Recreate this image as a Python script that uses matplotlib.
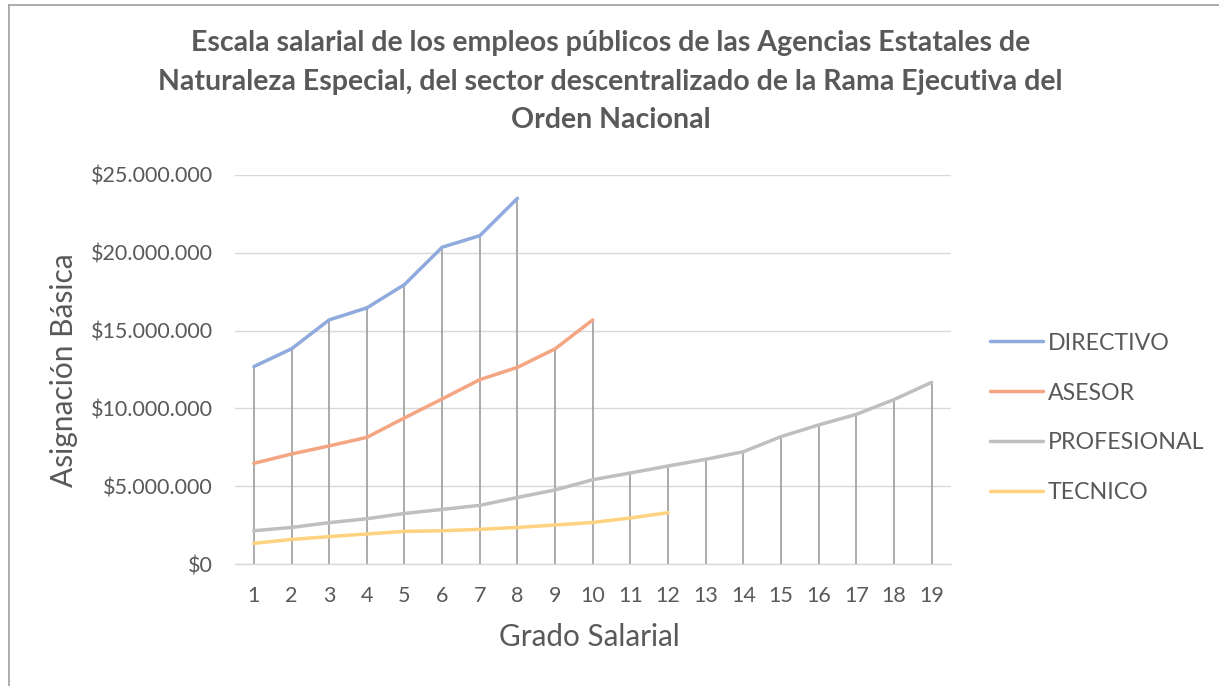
import numpy as np
import matplotlib
matplotlib.use("Agg")
import matplotlib.pyplot as plt
from matplotlib.lines import Line2D
from matplotlib.ticker import FuncFormatter

# datos (millones de pesos)
grados = list(range(1, 20))
directivo = [12.69, 13.83, 15.69, 16.46, 17.96, 20.36, 21.10, 23.50]
asesor = [6.47, 7.07, 7.59, 8.14, 9.39, 10.61, 11.85, 12.64, 13.83, 15.69]
profesional = [2.14, 2.35, 2.66, 2.91, 3.25, 3.51, 3.77, 4.28, 4.76, 5.42,
               5.85, 6.30, 6.73, 7.22, 8.19, 8.94, 9.62, 10.57, 11.68]
tecnico = [1.33, 1.58, 1.76, 1.93, 2.10, 2.14, 2.23, 2.35, 2.51, 2.67, 2.96, 3.30]

series = [
    ("DIRECTIVO", directivo, "#8faadc"),
    ("ASESOR", asesor, "#f4a582"),
    ("PROFESIONAL", profesional, "#bfbfbf"),
    ("TECNICO", tecnico, "#ffd280"),
]

plt.rcParams['font.family'] = ['Lato', 'DejaVu Sans']
texto = "#595959"

fig = plt.figure(figsize=(12.19, 6.86), dpi=100)
ax = fig.add_axes([0.1928, 0.1778, 0.587, 0.5671])

# lineas de caida (desde el valor maximo de cada grado hasta el eje)
maximos = []
for i, g in enumerate(grados):
    vals = [s[1][i] * 1e6 for s in series if i < len(s[1])]
    maximos.append(max(vals))
ax.vlines(grados, 0, maximos, color="#a5a5a5", lw=1.3, zorder=2)

for nombre, vals, color in series:
    x = grados[:len(vals)]
    ax.plot(x, np.array(vals) * 1e6, color=color, lw=2.5, label=nombre,
            solid_capstyle="round", zorder=3)

ax.set_xlim(0.5, 19.5)
ax.set_ylim(0, 25e6)
ax.set_xticks(grados)
ax.set_yticks(np.arange(0, 25e6 + 1, 5e6))
ax.yaxis.set_major_formatter(FuncFormatter(
    lambda v, p: "$" + f"{int(v):,}".replace(",", ".")))
ax.grid(axis="y", color="#d9d9d9", lw=1.0, zorder=0)
for lado in ["top", "right", "left"]:
    ax.spines[lado].set_visible(False)
ax.spines["bottom"].set_color("#d9d9d9")
ax.spines["bottom"].set_linewidth(1.0)
ax.tick_params(length=0, labelsize=15.5, labelcolor=texto)
ax.tick_params(axis="x", pad=16)
ax.tick_params(axis="y", pad=16)

ax.set_xlabel("Grado Salarial", fontsize=21.3, color=texto)
ax.set_ylabel("Asignación Básica", fontsize=21.5, color=texto)
ax.xaxis.set_label_coords(0.4958, -0.1877)
ax.xaxis.label.set_va("center")
ax.yaxis.set_label_coords(-0.2388, 0.4987)
ax.yaxis.label.set_va("center")

fig.text(0.501, 1 - 30 / 686,
         "Escala salarial de los empleos públicos de las Agencias Estatales de\n"
         "Naturaleza Especial, del sector descentralizado de la Rama Ejecutiva del\n"
         "Orden Nacional",
         ha="center", va="top", fontsize=20.5, fontweight="bold", color=texto,
         linespacing=1.6)

leg = fig.legend(loc="center left", bbox_to_anchor=(990 / 1219, 1 - 418 / 686),
                 frameon=False, fontsize=16.7, labelspacing=1.25,
                 handlelength=2.3, handletextpad=0.2, borderpad=0,
                 borderaxespad=0)
for t in leg.get_texts():
    t.set_color(texto)

# borde del grafico (solo arriba e izquierda quedan visibles)
fig.add_artist(Line2D([9 / 1219, 1], [1 - 5 / 686, 1 - 5 / 686],
                      transform=fig.transFigure, color="#a6a6a6", lw=1.3))
fig.add_artist(Line2D([9 / 1219, 9 / 1219], [0, 1 - 5 / 686],
                      transform=fig.transFigure, color="#a6a6a6", lw=1.3))

fig.savefig("out.png", dpi=100)
